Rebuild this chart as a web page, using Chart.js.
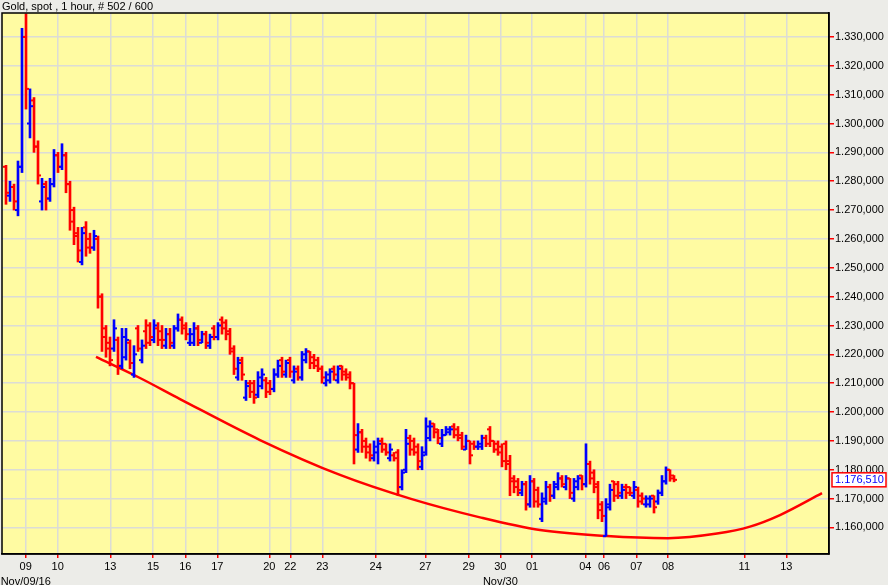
<!DOCTYPE html>
<html>
<head>
<meta charset="utf-8">
<script src="https://cdn.jsdelivr.net/npm/chart.js@4.4.1/dist/chart.umd.min.js"></script>
<style>
  body { margin: 0; background: #ecece8; }
  canvas { display: block; }
</style>
</head>
<body>
<canvas id="myChart" width="888" height="585"></canvas>
<script>
// 3-hour bars, first bar sits at slot 1
const firstBar = 1;
const opens = [1285,1275,1278,1270,1285,1330,1300,1308,1292,1273,1279,1274,1279,1289,1285,1289,1279,1270,1262,1252,
  1264,1260,1257,1260,1240,1229,1224,1222,1225,1216,1219,1224,1213,1229,1218,1228,1230,1225,1229,1228,
  1223,1227,1223,1229,1232,1230,1224,1224,1229,1224,1227,1223,1229,1226,1232,1231,1228,1222,1212,1218,
  1205,1210,1210,1206,1209,1211,1210,1208,1213,1218,1213,1218,1211,1215,1212,1218,1221,1219,1218,1215,
  1210,1211,1215,1211,1216,1214,1213,1210,1187,1193,1190,1188,1184,1186,1190,1189,1184,1185,1186,1174,
  1180,1191,1190,1188,1181,1186,1191,1196,1194,1189,1192,1193,1195,1194,1192,1187,1190,1189,1188,1188,
  1191,1194,1190,1189,1188,1189,1183,1177,1176,1172,1175,1168,1176,1173,1163,1169,1174,1171,1174,1177,
  1174,1177,1170,1174,1178,1175,1182,1179,1175,1168,1157,1167,1176,1175,1171,1174,1174,1171,1173,1171,
  1168,1168,1171,1169,1172,1176,1180,1178];
const highs = [1285.5,1280,1279,1287,1333,1338,1312,1309,1294,1281,1280,1281,1291,1290,1293,1290,1280,1271,1264,1264,
  1266,1262,1263,1261,1241,1230,1226,1232,1226,1229,1229,1225,1223,1230,1225,1232,1231,1232,1231,1230,
  1229,1229,1230,1234,1233,1231,1229,1231,1230,1228,1228,1227,1230,1231,1233,1232,1229,1223,1219,1219,
  1211,1211,1211,1214,1215,1212,1211,1215,1218,1219,1218,1219,1216,1216,1221,1222,1221,1220,1219,1216,
  1214,1215,1216,1216,1216,1215,1214,1210,1196,1194,1191,1189,1190,1191,1191,1189,1189,1186,1187,1180,
  1194,1192,1191,1189,1188,1198,1197,1196,1194,1194,1195,1195,1196,1195,1193,1192,1190,1190,1190,1192,
  1192,1195,1190,1190,1189,1190,1185,1178,1177,1176,1176,1178,1177,1174,1172,1176,1175,1176,1179,1178,
  1178,1177,1177,1178,1178,1189,1183,1180,1176,1169,1170,1175,1176,1176,1175,1175,1174,1176,1174,1172,
  1171,1171,1171,1173,1178,1181,1180,1178];
const lows = [1272,1273,1270,1268,1283,1305,1295,1290,1279,1270,1270,1273,1278,1283,1284,1276,1263,1258,1252,1251,
  1254,1255,1256,1236,1221,1219,1216,1221,1213,1215,1218,1215,1212,1221,1217,1222,1223,1224,1223,1222,
  1222,1222,1222,1228,1227,1225,1223,1223,1223,1224,1222,1222,1225,1225,1227,1225,1220,1213,1211,1211,
  1204,1205,1203,1205,1208,1205,1206,1207,1212,1212,1212,1212,1210,1211,1211,1217,1215,1215,1214,1210,
  1209,1210,1211,1210,1211,1211,1208,1182,1186,1186,1184,1183,1183,1182,1186,1185,1183,1183,1171,1173,
  1179,1185,1185,1180,1180,1185,1190,1191,1189,1188,1192,1192,1191,1190,1187,1187,1182,1187,1187,1187,
  1188,1188,1186,1185,1181,1180,1171,1172,1171,1171,1166,1167,1167,1167,1162,1168,1169,1170,1173,1174,
  1173,1170,1169,1173,1173,1174,1175,1172,1163,1162,1157,1166,1169,1170,1170,1170,1171,1170,1167,1168,
  1167,1167,1165,1168,1171,1175,1176,1175.8];
const closes = [1276,1278,1273,1285,1330,1312,1306,1292,1282,1278,1274,1279,1289,1285,1289,1279,1266,1261,1256,1262,
  1257,1257,1261,1240,1226,1222,1218,1229,1216,1226,1225,1217,1220,1222,1223,1224,1226,1230,1225,1225,
  1227,1224,1229,1232,1229,1227,1227,1229,1225,1227,1224,1226,1226,1230,1229,1227,1221,1215,1217,1213,
  1209,1207,1205,1212,1213,1207,1208,1213,1216,1214,1217,1214,1214,1212,1220,1221,1217,1216,1215,1212,
  1213,1214,1213,1215,1213,1212,1210,1192,1193,1188,1186,1185,1188,1189,1187,1186,1187,1184,1174,1179,
  1189,1187,1186,1183,1185,1195,1195,1193,1191,1192,1194,1194,1192,1191,1188,1190,1185,1188,1189,1191,
  1189,1190,1187,1186,1183,1182,1176,1174,1173,1175,1168,1176,1169,1168,1170,1174,1171,1175,1177,1175,
  1177,1172,1176,1177,1175,1182,1177,1174,1166,1164,1168,1173,1171,1172,1173,1172,1172,1174,1169,1170,
  1170,1170,1167,1172,1176,1180,1177,1176.51];

// trend curve, points (slot, price)
const curveSlots = [23.5, 34.5, 44.5, 64.5, 84.5, 102.25, 119.5, 134.5, 151.25, 166.5, 178.75, 187, 194.5, 205];
const curvePrices = [1219.1, 1211.8, 1204.5, 1190.3, 1178.2, 1169.9, 1163.5, 1159.1, 1157.0, 1156.3, 1157.9, 1160.3, 1164.3, 1171.9];

// day labels along the bottom
const dayTicks = [5.93, 13.93, 27.08, 37.75, 45.83, 53.83, 66.83, 72.08, 80.08, 93.43, 105.83, 116.68, 124.58, 132.5, 145.83, 150.5, 158.58, 166.5, 185.58, 196.08];
const dayLabels = [["09", "Nov/09/16"], "10", "13", "15", "16", "17", "20", "22", "23", "24", "27", "29", ["30", "Nov/30"], "01", "04", "06", "07", "08", "11", "13"];
const priceTicks = [1160, 1170, 1180, 1190, 1200, 1210, 1220, 1230, 1240, 1250, 1260, 1270, 1280, 1290, 1300, 1310, 1320, 1330];

const BLUE = "#0000ff";
const RED = "#ff0000";
const fontFam = "'Liberation Sans', Arial, sans-serif";

function fmt(v) {
  const parts = v.toFixed(3).split(".");
  const i = parts[0];
  return i.slice(0, -3) + "." + i.slice(-3) + "," + parts[1];
}

let barColors = opens.map((o, i) => (closes[i] >= o ? BLUE : RED));
let hiLo = opens.map((o, i) => ({ x: firstBar + i, y: [lows[i], highs[i]] }));
let openPts = opens.map((o, i) => ({ x: firstBar + i, y: o }));
let closePts = closes.map((c, i) => ({ x: firstBar + i, y: c }));
let curve = curveSlots.map((s, i) => ({ x: s, y: curvePrices[i] }));

const chartFrame = {
  id: "chartFrame",
  beforeDraw(chart) {
    const c = chart.ctx, a = chart.chartArea;
    c.save();
    c.fillStyle = "#ecece8";
    c.fillRect(0, 0, chart.width, chart.height);
    c.fillStyle = "#fffba2";
    c.fillRect(a.left, a.top, a.right - a.left, a.bottom - a.top);
    c.restore();
  },
  afterDraw(chart) {
    const c = chart.ctx, a = chart.chartArea;
    c.save();
    c.strokeStyle = "#000";
    c.lineWidth = 1.5;
    c.strokeRect(a.left, a.top, a.right - a.left, a.bottom - a.top);
    // last price box
    const last = closes[closes.length - 1];
    const y = chart.scales.y.getPixelForValue(last);
    c.fillStyle = "#fff";
    c.fillRect(a.right + 3, y - 7, 54, 14);
    c.strokeStyle = RED;
    c.lineWidth = 1.5;
    c.strokeRect(a.right + 3, y - 7, 54, 14);
    c.fillStyle = BLUE;
    c.font = "11px " + fontFam;
    c.textBaseline = "middle";
    c.fillText(fmt(last), a.right + 6, y + 0.5);
    c.restore();
  },
};

var ctx = document.getElementById("myChart").getContext("2d");
var myChart = new Chart(ctx, {
  type: "bar",
  data: {
    datasets: [
      {
        type: "line",
        data: curve,
        borderColor: RED,
        borderWidth: 2.5,
        pointRadius: 0,
        cubicInterpolationMode: "monotone",
        order: 3,
      },
      {
        type: "bar",
        data: hiLo,
        backgroundColor: barColors,
        barThickness: 2,
        grouped: false,
        order: 2,
      },
      {
        type: "scatter",
        data: openPts,
        pointStyle: "dash",
        rotation: 180,
        pointRadius: 3,
        borderWidth: 2,
        borderColor: barColors,
        order: 1,
      },
      {
        type: "scatter",
        data: closePts,
        pointStyle: "dash",
        rotation: 0,
        pointRadius: 3,
        borderWidth: 2,
        borderColor: barColors,
        order: 1,
      },
    ],
  },
  options: {
    responsive: false,
    animation: false,
    layout: { autoPadding: false, padding: { left: 2, top: 0, right: 0, bottom: 0 } },
    plugins: {
      legend: { display: false },
      tooltip: { enabled: false },
      title: {
        display: true,
        text: "Gold, spot , 1 hour, # 502 / 600",
        align: "start",
        color: "#000",
        font: { family: fontFam, size: 11, weight: "normal", lineHeight: 1 },
        padding: { top: 1, bottom: 1 },
      },
    },
    scales: {
      x: {
        type: "linear",
        min: 0,
        max: 206.75,
        offset: false,
        grid: { offset: false, color: "#dcdcd6", lineWidth: 1.5, tickColor: RED, tickLength: 4 },
        border: { color: "#000", width: 1.5 },
        afterBuildTicks: (s) => { s.ticks = dayTicks.map((v) => ({ value: v })); },
        afterFit: (s) => { s.height = 31; s.paddingLeft = 0; s.paddingRight = 0; },
        ticks: {
          autoSkip: false,
          maxRotation: 0,
          minRotation: 0,
          padding: 2,
          color: "#000",
          font: { family: fontFam, size: 11, lineHeight: 1.35 },
          callback: (v, i) => dayLabels[i],
        },
      },
      y: {
        position: "right",
        min: 1150.8,
        max: 1338.3,
        grid: { color: "#dcdcd6", lineWidth: 1.5, tickColor: RED, tickLength: 5 },
        border: { color: "#000", width: 1.5 },
        afterBuildTicks: (s) => { s.ticks = priceTicks.map((v) => ({ value: v })); },
        afterFit: (s) => { s.width = 59; },
        ticks: {
          padding: 1,
          color: "#000",
          font: { family: fontFam, size: 11 },
          callback: (v) => fmt(v),
        },
      },
    },
  },
  plugins: [chartFrame],
});
</script>
</body>
</html>
